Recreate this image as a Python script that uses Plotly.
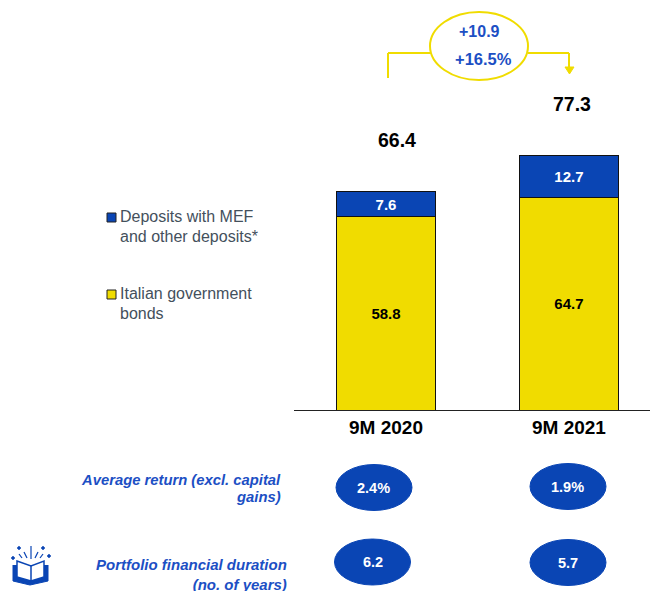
import plotly.graph_objects as go

W, H = 650, 591
categories = ["9M 2020", "9M 2021"]
bonds = [58.8, 64.7]
deposits = [7.6, 12.7]
totals = [66.4, 77.3]
returns = ["2.4%", "1.9%"]
durations = ["6.2", "5.7"]
delta_abs = "+10.9"
delta_pct = "+16.5%"

YELLOW = "#F0DC00"
BLUE = "#0A45B4"
TXT_BLUE = "#1C4FC4"
GREY = "#44505C"
FONT = "Liberation Sans"

def fx(p): return p / W
def fy(p): return 1 - p / H

fig = go.Figure()
fig.add_bar(x=categories, y=bonds, name="Italian government bonds", marker=dict(color=YELLOW, line=dict(color="#111", width=1)),
            text=[f"{v:.1f}" for v in bonds], textposition="inside", insidetextanchor="middle", constraintext="none",
            textfont=dict(family=FONT, size=15, color="#000", weight="bold"), hoverinfo="skip")
fig.add_bar(x=categories, y=deposits, name="Deposits with MEF and other deposits*", marker=dict(color=BLUE, line=dict(color="#111", width=1)),
            text=[f"{v:.1f}" for v in deposits], textposition="inside", insidetextanchor="middle", constraintext="none",
            textfont=dict(family=FONT, size=15, color="#fff", weight="bold"), hoverinfo="skip")

shapes, ann = [], []

def text(x, y, s, size=14, color="#000", bold=False, italic=False, align="center", anchor="center"):
    ann.append(dict(xref="paper", yref="paper", x=fx(x), y=fy(y), text=s, showarrow=False, xanchor=anchor, yanchor="middle",
                    align=align, font=dict(family=FONT, size=size, color=color, weight="bold" if bold else "normal",
                                           style="italic" if italic else "normal")))

def line(x0, y0, x1, y1, color=YELLOW, width=2):
    shapes.append(dict(type="line", xref="paper", yref="paper", x0=fx(x0), y0=fy(y0), x1=fx(x1), y1=fy(y1),
                       line=dict(color=color, width=width)))

def oval(x0, y0, x1, y1, fill, lc, width=1):
    shapes.append(dict(type="circle", xref="paper", yref="paper", x0=fx(x0), y0=fy(y0), x1=fx(x1), y1=fy(y1),
                       fillcolor=fill, line=dict(color=lc, width=width)))

def path(d, fill="rgba(0,0,0,0)", lc=BLUE, width=1.5):
    toks = d.split()
    out, i = [], 0
    while i < len(toks):
        t = toks[i]
        if t == "Z":
            out.append("Z"); i += 1
        else:
            out.append(f"{t}{fx(float(toks[i+1])):.5f},{fy(float(toks[i+2])):.5f}"); i += 3
    shapes.append(dict(type="path", xref="paper", yref="paper", path=" ".join(out), fillcolor=fill, line=dict(color=lc, width=width)))

# totals
text(397, 140, f"{totals[0]}", 19.5, "#000", True)
text(572, 104, f"{totals[1]}", 19.5, "#000", True)

# delta connector
line(388, 78, 388, 53); line(388, 53, 431, 53); line(528, 53, 569, 53); line(569, 53, 569, 68)
path("M 565 67 L 574 67 L 569.5 74 Z", fill=YELLOW, lc=YELLOW, width=1)
oval(430, 12, 528, 80, "#fff", YELLOW, 2)
text(479, 32, delta_abs, 16, TXT_BLUE, True)
text(483, 59, delta_pct, 16.5, TXT_BLUE, True)

# legend
shapes.append(dict(type="rect", xref="paper", yref="paper", x0=fx(107), y0=fy(222), x1=fx(116), y1=fy(213), fillcolor=BLUE, line=dict(color="#222", width=1)))
shapes.append(dict(type="rect", xref="paper", yref="paper", x0=fx(107), y0=fy(299), x1=fx(116), y1=fy(290), fillcolor=YELLOW, line=dict(color="#222", width=1)))
text(118, 217, "Deposits with MEF", 16, GREY, anchor="left")
text(118, 236, "and other deposits*", 16, GREY, anchor="left")
text(118, 294, "Italian government", 16, GREY, anchor="left")
text(118, 313, "bonds", 16, GREY, anchor="left")

# KPI rows
text(283, 480, "Average return (excl. capital", 14.8, TXT_BLUE, True, True, anchor="right")
text(283, 497, "gains)", 14.8, TXT_BLUE, True, True, anchor="right")
ann.append(dict(xref="paper", yref="paper", x=fx(289), y=0, yanchor="bottom", xanchor="right", yshift=-4, align="right", showarrow=False,
                text="Portfolio financial duration<br>(no. of years)",
                font=dict(family=FONT, size=15, color=TXT_BLUE, weight="bold", style="italic")))
for cx, r, cy in [(374, returns[0], 487.5), (568, returns[1], 486.5)]:
    oval(cx - 38, cy - 23, cx + 38, cy + 23, BLUE, BLUE)
    text(cx - 1, cy, r, 14.5, "#fff", True)
for cx, d, cy in [(372.5, durations[0], 562), (568, durations[1], 562.5)]:
    oval(cx - 38, cy - 23, cx + 38, cy + 23, BLUE, BLUE)
    text(cx, cy, d, 14.5, "#fff", True)

# book icon
path("M 13 565 L 13 581 L 30 585 L 48 581 L 48 565", fill=BLUE, lc=BLUE, width=1)
path("M 17 561 L 31 566 L 44 561 L 44 577 L 31 581 L 17 577 Z", fill="#fff", lc=BLUE, width=1.5)
line(31, 566, 31, 581, BLUE, 1.5)
for a, b, c, d in [(31, 546, 31, 559), (24, 552, 27, 558), (38, 552, 35, 558), (19, 554, 22, 558), (43, 554, 40, 558)]:
    line(a, b, c, d, BLUE, 1.2)
for cx, cy in [(13, 558), (19, 548), (43, 548), (49, 556)]:
    path(f"M {cx-2} {cy} L {cx} {cy-2} L {cx+2} {cy} L {cx} {cy+2} Z", fill=BLUE, lc=BLUE, width=0.5)

# y scale: baseline at px 410, about 3.285 px per unit, top of axis at px 0
fig.update_layout(
    width=W, height=H, autosize=False, margin=dict(l=0, r=0, t=0, b=0),
    paper_bgcolor="#fff", plot_bgcolor="#fff", barmode="stack", bargap=0.454, showlegend=False,
    shapes=shapes, annotations=ann,
    xaxis=dict(domain=[294 / W, 1], range=[-0.503, 1.443], type="category", showgrid=False, showline=True, linecolor="#222", linewidth=1,
               ticks="", tickfont=dict(family=FONT, size=19, color="#000", weight="bold"), anchor="y", fixedrange=True),
    yaxis=dict(domain=[1 - 410 / H, 1], range=[0, 124.8], visible=False, fixedrange=True),
)
fig.write_html("out.html", config={"displayModeBar": False}, post_script="document.body.style.margin='0';")
